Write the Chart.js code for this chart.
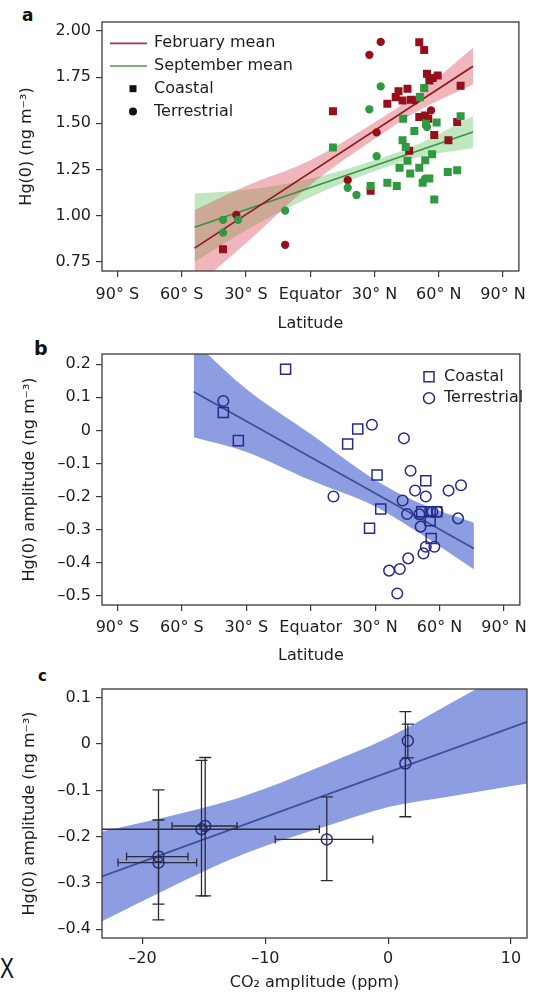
<!DOCTYPE html>
<html>
<head>
<meta charset="utf-8">
<script src="https://cdn.jsdelivr.net/npm/chart.js@4.4.0/dist/chart.umd.min.js"></script>
<style>
  html, body { margin: 0; padding: 0; background: #fff; }
  body { width: 534px; height: 997px; position: relative; overflow: hidden; font-family: "DejaVu Sans", sans-serif; }
  canvas { position: absolute; left: 0; }
  .tag { position: absolute; font-weight: bold; color: #111; line-height: 1; }
</style>
</head>
<body>
<div class="tag" style="left:22px;top:7px;font-size:17px">a</div>
<div class="tag" style="left:34px;top:339px;font-size:19px">b</div>
<div class="tag" style="left:38px;top:669px;font-size:15px">c</div>
<div style="position:absolute;left:0;top:953px;font:30px 'Liberation Sans',sans-serif;line-height:1;transform:scaleX(0.7);transform-origin:left top;color:#111">X</div>
<canvas id="chartA" width="534" height="335" style="top:0"></canvas>
<canvas id="chartB" width="534" height="335" style="top:335px"></canvas>
<canvas id="chartC" width="534" height="327" style="top:670px"></canvas>
<script>
// ---- panel a: Hg(0) vs latitude ----
const latTicks = [-90, -60, -30, 0, 30, 60, 90];
const latTickLabels = ['90° S', '60° S', '30° S', 'Equator', '30° N', '60° N', '90° N'];
const hgTicks = [0.75, 1.00, 1.25, 1.50, 1.75, 2.00];
const hgTickLabels = ['0.75', '1.00', '1.25', '1.50', '1.75', '2.00'];

const febCoastLat = [-40.7, 10.6, 28.2, 36.0, 41.2, 45.4, 39.9, 43.1, 47.0, 50.9, 53.2, 54.5, 57.2, 59.5, 55.6, 50.9, 53.6, 55.1, 57.9, 64.5, 68.6, 70.2, 46.2];
const febCoastHg = [0.818, 1.565, 1.135, 1.606, 1.674, 1.687, 1.642, 1.624, 1.628, 1.939, 1.897, 1.768, 1.746, 1.759, 1.732, 1.534, 1.543, 1.525, 1.437, 1.408, 1.507, 1.703, 1.351];
const febLandLat = [-34.5, -11.7, 17.5, 27.6, 32.9, 31.0, 56.4, 48.9];
const febLandHg = [1.004, 0.842, 1.192, 1.871, 1.941, 1.451, 1.570, 1.624];
const sepCoastLat = [10.6, 28.2, 36.0, 40.4, 41.7, 43.1, 44.6, 45.4, 46.7, 43.4, 48.6, 50.9, 52.5, 55.6, 53.7, 56.9, 57.9, 54.0, 59.0, 64.2, 68.6, 70.2, 53.2, 51.2];
const sepCoastHg = [1.369, 1.160, 1.178, 1.160, 1.259, 1.408, 1.372, 1.297, 1.228, 1.525, 1.459, 1.259, 1.178, 1.201, 1.300, 1.333, 1.088, 1.498, 1.505, 1.237, 1.246, 1.538, 1.692, 1.642];
const sepLandLat = [-40.7, -40.7, -33.7, -11.7, 17.5, 21.6, 27.6, 32.9, 31.0, 54.5, 53.6];
const sepLandHg = [0.977, 0.908, 0.977, 1.027, 1.151, 1.112, 1.576, 1.700, 1.322, 1.480, 1.200];

const fitLatA = [-54, 76];
const febFit = [0.824, 1.809];
const sepFit = [0.937, 1.453];
const bandLatA = [-54, -30, 0, 30, 50, 76];
const febUpper = [1.03, 1.16, 1.30, 1.505, 1.66, 1.91];
const febLower = [0.61, 0.85, 1.165, 1.415, 1.565, 1.71];
const sepUpper = [1.12, 1.14, 1.20, 1.30, 1.385, 1.54];
const sepLower = [0.75, 0.92, 1.10, 1.24, 1.315, 1.365];

// ---- panel b: Hg(0) amplitude vs latitude ----
const ampTicksB = [-0.5, -0.4, -0.3, -0.2, -0.1, 0, 0.1, 0.2];
const ampTickLabelsB = ['–0.5', '–0.4', '–0.3', '–0.2', '–0.1', '0', '0.1', '0.2'];
const coastLatB = [-11.7, -40.7, -33.7, 17.2, 21.9, 30.9, 32.6, 27.4, 53.6, 51.7, 55.6, 58.7, 55.6, 56.1];
const coastAmpB = [0.185, 0.054, -0.031, -0.041, 0.004, -0.135, -0.238, -0.296, -0.152, -0.246, -0.246, -0.246, -0.273, -0.327];
const landLatB = [-40.7, 10.6, 28.5, 43.4, 46.5, 48.6, 53.6, 42.8, 44.9, 50.6, 51.2, 59.0, 64.2, 70.0, 68.6, 45.4, 36.5, 41.5, 40.3, 52.5, 53.6, 57.6, 56.7];
const landAmpB = [0.089, -0.200, 0.017, -0.024, -0.122, -0.182, -0.200, -0.212, -0.253, -0.254, -0.291, -0.246, -0.182, -0.166, -0.266, -0.387, -0.424, -0.419, -0.493, -0.372, -0.352, -0.352, -0.246];
const fitLatB = [-54.5, 76];
const fitAmpB = [0.117, -0.357];
const bandLatB = [-54.5, -30, 0, 30, 50, 76];
const upperB = [0.27, 0.125, -0.011, -0.150, -0.218, -0.279];
const lowerB = [-0.021, -0.065, -0.151, -0.230, -0.308, -0.42];

// ---- panel c: Hg(0) amplitude vs CO2 amplitude ----
const co2Ticks = [-20, -10, 0, 10];
const co2TickLabels = ['–20', '–10', '0', '10'];
const ampTicksC = [-0.4, -0.3, -0.2, -0.1, 0, 0.1];
const ampTickLabelsC = ['–0.4', '–0.3', '–0.2', '–0.1', '0', '0.1'];
const co2Amp = [-18.7, -18.7, -15.2, -14.9, -5.0, 1.4, 1.6];
const hgAmpC = [-0.243, -0.256, -0.184, -0.177, -0.206, -0.042, 0.007];
const co2Lo = [-21.3, -22.0, -24.0, -17.6, -9.2, 1.4, 1.6];
const co2Hi = [-16.3, -15.6, -5.6, -12.3, -1.25, 1.4, 1.6];
const hgLo = [-0.346, -0.380, -0.328, -0.328, -0.295, -0.157, -0.030];
const hgHi = [-0.164, -0.099, -0.035, -0.029, -0.114, 0.070, 0.043];
const fitCo2 = [-23.3, 11.3];
const fitHgC = [-0.286, 0.048];
const bandCo2 = [-23.3, -18, -13, -10, -5, 0, 5, 11.3];
const upperC = [-0.189, -0.157, -0.123, -0.096, -0.043, 0.014, 0.087, 0.181];
const lowerC = [-0.383, -0.313, -0.251, -0.220, -0.177, -0.136, -0.113, -0.085];

const FONT = '"DejaVu Sans", sans-serif';
Chart.defaults.font.family = FONT;
Chart.defaults.font.size = 16;
Chart.defaults.color = '#1e1e1e';

const RED = '#96101c', RED_LINE = '#8e1a1f', RED_BAND = 'rgba(222, 80, 92, 0.42)';
const GREEN = '#2f9a40', GREEN_LINE = '#3c9143', GREEN_BAND = 'rgba(105, 200, 105, 0.42)';
const NAVY = '#262a8c', BLUE_LINE = '#3b4d9c', BLUE_BAND = '#8c9de2';

const pts = (xs, ys) => xs.map((x, i) => ({ x: x, y: ys[i] }));

function markers(xs, ys, style, radius, fill, stroke, order) {
  return {
    data: pts(xs, ys), showLine: false, pointStyle: style, pointRadius: radius,
    pointBackgroundColor: fill, pointBorderColor: stroke, pointBorderWidth: 1.5, order: order
  };
}
function fitLine(xs, ys, color, order) {
  return { data: pts(xs, ys), borderColor: color, borderWidth: 1.7, pointRadius: 0, fill: false, order: order };
}
// returns [upper, lower]; upper fills to the next dataset
function band(xs, up, lo, color, order) {
  return [
    { data: pts(xs, up), borderWidth: 0, pointRadius: 0, fill: '+1', backgroundColor: color, cubicInterpolationMode: 'monotone', order: order },
    { data: pts(xs, lo), borderWidth: 0, pointRadius: 0, fill: false, cubicInterpolationMode: 'monotone', order: order }
  ];
}

function axisX(min, max, ticks, labels, title, labelPad, titlePad, height) {
  return {
    type: 'linear', min: min, max: max,
    afterBuildTicks: s => { s.ticks = ticks.map(v => ({ value: v })); },
    afterFit: s => { s.height = height; },
    ticks: { autoSkip: false, maxRotation: 0, padding: labelPad, callback: v => labels[ticks.indexOf(v)] },
    grid: { drawOnChartArea: false, drawTicks: true, tickLength: 6, color: '#3a3a3a', lineWidth: 1.2 },
    border: { display: false },
    title: { display: true, text: title, padding: { top: 0, bottom: titlePad } }
  };
}
function axisY(min, max, ticks, labels, title, titlePad) {
  return {
    type: 'linear', min: min, max: max,
    afterBuildTicks: s => { s.ticks = ticks.map(v => ({ value: v })); },
    afterFit: s => { s.width = 102; },
    ticks: { padding: 5, callback: v => labels[ticks.indexOf(v)] },
    grid: { drawOnChartArea: false, drawTicks: true, tickLength: 6, color: '#3a3a3a', lineWidth: 1.2 },
    border: { display: false },
    title: { display: true, text: title, padding: { top: titlePad, bottom: 0 } }
  };
}

// frame round the plot region
const frame = {
  id: 'frame',
  afterDatasetsDraw(chart) {
    const { ctx, chartArea: a } = chart;
    ctx.save();
    ctx.strokeStyle = '#3a3a3a';
    ctx.lineWidth = 1.3;
    ctx.strokeRect(a.left, a.top, a.right - a.left, a.bottom - a.top);
    ctx.restore();
  }
};

// key drawn inside the plot
const keyBox = {
  id: 'keyBox',
  afterDraw(chart, args, opts) {
    if (!opts || !opts.items) return;
    const ctx = chart.ctx;
    ctx.save();
    ctx.font = '16px ' + FONT;
    ctx.textBaseline = 'middle';
    opts.items.forEach((it, i) => {
      const y = opts.y + i * opts.dy;
      if (it.line) {
        ctx.strokeStyle = it.line;
        ctx.lineWidth = 1.7;
        ctx.beginPath();
        ctx.moveTo(opts.lineX[0], y);
        ctx.lineTo(opts.lineX[1], y);
        ctx.stroke();
      } else {
        ctx.strokeStyle = it.color;
        ctx.fillStyle = it.color;
        ctx.lineWidth = 1.5;
        ctx.beginPath();
        if (it.marker === 'rect') {
          ctx.rect(opts.markX - it.size / 2, y - it.size / 2, it.size, it.size);
        } else {
          ctx.arc(opts.markX, y, it.size / 2, 0, Math.PI * 2);
        }
        if (opts.open) ctx.stroke(); else ctx.fill();
      }
      ctx.fillStyle = '#1e1e1e';
      ctx.fillText(it.text, opts.textX, y);
    });
    ctx.restore();
  }
};

// error bars for panel c
const errBars = {
  id: 'errBars',
  afterDatasetsDraw(chart, args, opts) {
    if (!opts || !opts.xs) return;
    const { ctx, chartArea: a } = chart;
    const sx = chart.scales.x, sy = chart.scales.y;
    ctx.save();
    ctx.beginPath();
    ctx.rect(a.left, a.top, a.right - a.left, a.bottom - a.top);
    ctx.clip();
    ctx.strokeStyle = '#2b2b38';
    ctx.lineWidth = 1.3;
    opts.xs.forEach((xv, i) => {
      const px = sx.getPixelForValue(xv), py = sy.getPixelForValue(opts.ys[i]);
      const y0 = sy.getPixelForValue(opts.yLo[i]), y1 = sy.getPixelForValue(opts.yHi[i]);
      ctx.beginPath();
      ctx.moveTo(px, y0); ctx.lineTo(px, y1);
      ctx.moveTo(px - 6, y0); ctx.lineTo(px + 6, y0);
      ctx.moveTo(px - 6, y1); ctx.lineTo(px + 6, y1);
      if (opts.xLo[i] !== opts.xHi[i]) {
        const x0 = sx.getPixelForValue(opts.xLo[i]), x1 = sx.getPixelForValue(opts.xHi[i]);
        ctx.moveTo(x0, py); ctx.lineTo(x1, py);
        ctx.moveTo(x0, py - 4); ctx.lineTo(x0, py + 4);
        ctx.moveTo(x1, py - 4); ctx.lineTo(x1, py + 4);
      }
      ctx.stroke();
    });
    ctx.restore();
  }
};

Chart.register(frame, keyBox, errBars);

function baseOptions(top, scales, extra) {
  return {
    responsive: false,
    animation: false,
    events: [],
    layout: { padding: { top: top, right: 7, left: 0, bottom: 0 } },
    scales: scales,
    plugins: Object.assign({ legend: { display: false }, tooltip: { enabled: false } }, extra)
  };
}

// panel a
new Chart(document.getElementById('chartA'), {
  type: 'line',
  data: {
    datasets: [
      markers(sepCoastLat, sepCoastHg, 'rect', 4.6, GREEN, GREEN, 0),
      markers(sepLandLat, sepLandHg, 'circle', 3.4, GREEN, GREEN, 0),
      markers(febCoastLat, febCoastHg, 'rect', 4.6, RED, RED, 1),
      markers(febLandLat, febLandHg, 'circle', 3.4, RED, RED, 1),
      fitLine(fitLatA, febFit, RED_LINE, 2),
      fitLine(fitLatA, sepFit, GREEN_LINE, 3),
      ...band(bandLatA, febUpper, febLower, RED_BAND, 4),
      ...band(bandLatA, sepUpper, sepLower, GREEN_BAND, 5)
    ]
  },
  options: baseOptions(22, {
    x: axisX(-97.2, 97.4, latTicks, latTickLabels, 'Latitude', 8, 1.5, 64),
    y: axisY(0.70, 2.049, hgTicks, hgTickLabels, 'Hg(0) (ng m⁻³)', 17)
  }, {
    keyBox: {
      y: 43.3, dy: 22.7, lineX: [110, 147], markX: 133, textX: 154, open: false,
      items: [
        { text: 'February mean', line: '#a33a3c' },
        { text: 'September mean', line: '#4a9d4a' },
        { text: 'Coastal', marker: 'rect', size: 7, color: '#111' },
        { text: 'Terrestrial', marker: 'circle', size: 8, color: '#111' }
      ]
    }
  })
});

// panel b
new Chart(document.getElementById('chartB'), {
  type: 'line',
  data: {
    datasets: [
      markers(coastLatB, coastAmpB, 'rect', 7.1, 'rgba(0,0,0,0)', NAVY, 0),
      markers(landLatB, landAmpB, 'circle', 5.3, 'rgba(0,0,0,0)', NAVY, 0),
      fitLine(fitLatB, fitAmpB, BLUE_LINE, 1),
      ...band(bandLatB, upperB, lowerB, BLUE_BAND, 2)
    ]
  },
  options: baseOptions(19, {
    x: axisX(-97.2, 97.4, latTicks, latTickLabels, 'Latitude', 7, 5, 65),
    y: axisY(-0.528, 0.231, ampTicksB, ampTickLabelsB, 'Hg(0) amplitude (ng m⁻³)', 20)
  }, {
    keyBox: {
      y: 41.7, dy: 21.5, markX: 429, textX: 444, open: true,
      items: [
        { text: 'Coastal', marker: 'rect', size: 10, color: NAVY },
        { text: 'Terrestrial', marker: 'circle', size: 11, color: NAVY }
      ]
    }
  })
});

// panel c
new Chart(document.getElementById('chartC'), {
  type: 'line',
  data: {
    datasets: [
      markers(co2Amp, hgAmpC, 'circle', 5.5, 'rgba(0,0,0,0)', NAVY, 0),
      fitLine(fitCo2, fitHgC, BLUE_LINE, 1),
      ...band(bandCo2, upperC, lowerC, BLUE_BAND, 2)
    ]
  },
  options: baseOptions(19, {
    x: axisX(-23.3, 11.3, co2Ticks, co2TickLabels, 'CO₂ amplitude (ppm)', 5, 4.4, 59),
    y: axisY(-0.419, 0.119, ampTicksC, ampTickLabelsC, 'Hg(0) amplitude (ng m⁻³)', 20)
  }, {
    errBars: { xs: co2Amp, ys: hgAmpC, xLo: co2Lo, xHi: co2Hi, yLo: hgLo, yHi: hgHi }
  })
});
</script>
</body>
</html>
